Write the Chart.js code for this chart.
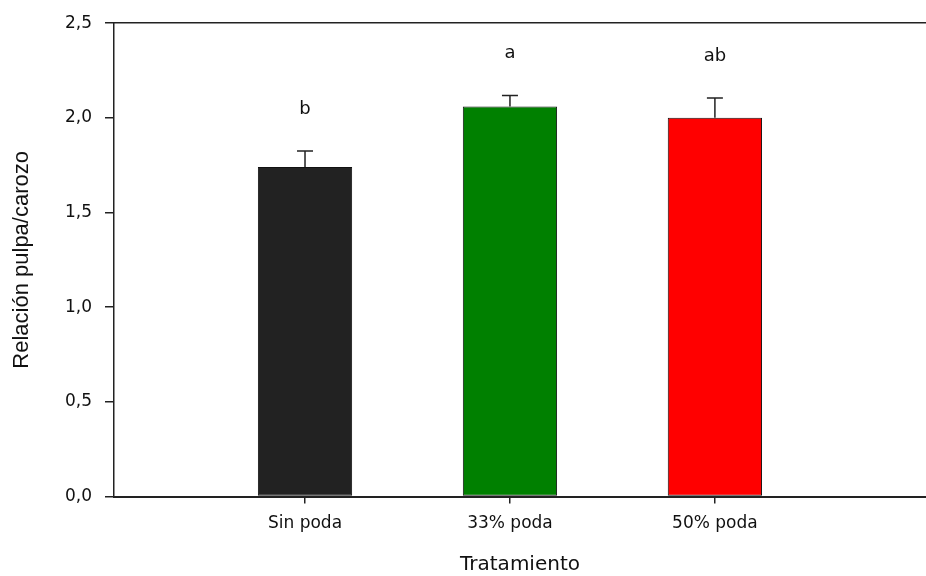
<!DOCTYPE html>
<html>
<head>
<meta charset="utf-8">
<script src="https://cdn.jsdelivr.net/npm/chart.js@4.4.1/dist/chart.umd.min.js"></script>
<style>
  body { margin: 0; background: #fff; }
  #wrap { width: 926px; height: 576px; position: relative; }
</style>
</head>
<body>
<div id="wrap"><canvas id="chart"></canvas></div>
<script>
// data
const categories = ['Sin poda', '33% poda', '50% poda'];
const positions = [1, 2, 3];
const means = [1.74, 2.06, 2.00];
const errors = [0.085, 0.058, 0.105];
const letters = ['b', 'a', 'ab'];
const barColors = ['#222222', '#008000', '#ff0000'];
const yTicks = [0, 0.5, 1.0, 1.5, 2.0, 2.5];

const tickFont = { family: "'DejaVu Sans', sans-serif", size: 17 };
const titleFont = { family: "'DejaVu Sans', sans-serif", size: 20, lineHeight: 1 };

// top-only error bars and significance letters
const errorBarsPlugin = {
    id: 'errorBars',
    afterDatasetsDraw(chart) {
        const ctx = chart.ctx;
        const x = chart.scales.x, y = chart.scales.y;
        ctx.save();
        ctx.strokeStyle = '#222';
        ctx.lineWidth = 1.5;
        ctx.fillStyle = '#111';
        ctx.font = "18px 'DejaVu Sans', sans-serif";
        ctx.textAlign = 'center';
        ctx.textBaseline = 'middle';
        means.forEach((m, i) => {
            let px = x.getPixelForValue(positions[i]);
            let yBase = y.getPixelForValue(m);
            let yTop = y.getPixelForValue(m + errors[i]);
            ctx.beginPath();
            ctx.moveTo(px, yBase);
            ctx.lineTo(px, yTop);
            ctx.moveTo(px - 8, yTop);
            ctx.lineTo(px + 8, yTop);
            ctx.stroke();
            ctx.fillText(letters[i], px, yTop - 42);
        });
        ctx.restore();
    }
};

new Chart(document.getElementById('chart').getContext('2d'), {
    type: 'bar',
    data: {
        datasets: [{
            data: positions.map((p, i) => ({ x: p, y: means[i] })),
            backgroundColor: barColors,
            borderColor: '#111',
            borderWidth: 1,
            borderSkipped: false,
            categoryPercentage: 1,
            barPercentage: 0.46
        }]
    },
    options: {
        responsive: true,
        maintainAspectRatio: false,
        animation: false,
        layout: { padding: 0 },
        plugins: {
            legend: { display: false },
            tooltip: { enabled: false }
        },
        scales: {
            x: {
                type: 'linear',
                position: 'bottom',
                offset: false,
                min: 0.068,
                max: 4.03,
                afterBuildTicks: (scale) => { scale.ticks = positions.map(v => ({ value: v })); },
                afterFit: (scale) => { scale.height = 79.5; },
                ticks: {
                    callback: (v) => categories[v - 1],
                    font: tickFont,
                    color: '#111',
                    padding: 10,
                    maxRotation: 0
                },
                grid: { offset: false, drawOnChartArea: false, drawTicks: true, tickLength: 7, color: '#222', lineWidth: 1.5 },
                border: { display: true, color: '#222', width: 2 },
                title: {
                    display: true,
                    text: 'Tratamiento',
                    font: titleFont,
                    color: '#111',
                    padding: { top: 0, bottom: 1 }
                }
            },
            top: {
                type: 'linear',
                position: 'top',
                display: true,
                afterFit: (scale) => { scale.height = 16.5; },
                ticks: { display: false },
                grid: { drawOnChartArea: false, drawTicks: false },
                border: { display: true, color: '#222', width: 1.5 }
            },
            y: {
                min: 0,
                max: 2.5,
                afterBuildTicks: (scale) => { scale.ticks = yTicks.map(v => ({ value: v })); },
                afterFit: (scale) => { scale.width = 114; },
                ticks: {
                    callback: (v) => v.toFixed(1).replace('.', ','),
                    font: tickFont,
                    color: '#111',
                    padding: 13
                },
                grid: { drawOnChartArea: false, drawTicks: true, tickLength: 9, color: '#222', lineWidth: 1.5 },
                border: { display: true, color: '#222', width: 1.5 },
                title: {
                    display: true,
                    text: 'Relación pulpa/carozo',
                    font: { family: "'Liberation Sans', Arial, sans-serif", size: 22, lineHeight: 1.2 },
                    color: '#111',
                    padding: { top: 9, bottom: 0 }
                }
            }
        }
    },
    plugins: [errorBarsPlugin]
});
</script>
</body>
</html>
